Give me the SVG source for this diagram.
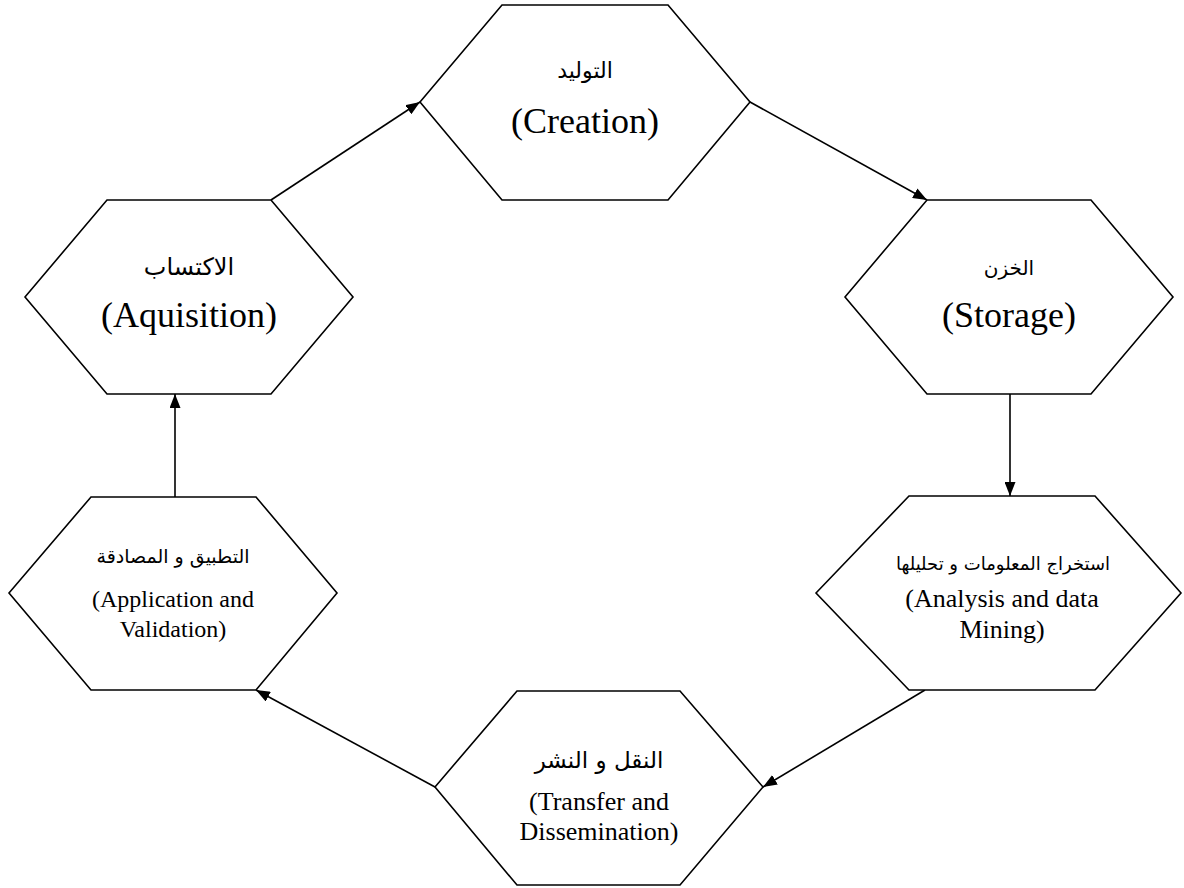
<svg xmlns="http://www.w3.org/2000/svg" width="1184" height="888" viewBox="0 0 1184 888">
  <style>
    .hex { fill: #ffffff; stroke: #000000; stroke-width: 1.6; stroke-linejoin: miter; }
    .link { fill: none; stroke: #000000; stroke-width: 1.6; marker-end: url(#arrow); }
    text { fill: #000000; text-anchor: middle; }
    .ar { font-family: "DejaVu Sans", sans-serif; }
    .en { font-family: "Liberation Serif", "DejaVu Serif", "Times New Roman", serif; }
  </style>
  <defs>
    <marker id="arrow" viewBox="0 0 14 11" refX="14" refY="5.5" markerWidth="14" markerHeight="11" markerUnits="userSpaceOnUse" orient="auto">
      <path d="M0,0 L14,5.5 L0,11 Z" fill="#000000"/>
    </marker>
  </defs>
  <rect width="1184" height="888" fill="#ffffff"/>

  <!-- connectors -->
  <g id="connectors">
    <line class="link" x1="271" y1="200" x2="420" y2="102"/>
    <line class="link" x1="750" y1="102" x2="927" y2="200"/>
    <line class="link" x1="1010" y1="394" x2="1010" y2="496"/>
    <line class="link" x1="925" y1="690" x2="763" y2="787"/>
    <line class="link" x1="435" y1="787" x2="256" y2="690"/>
    <line class="link" x1="175" y1="497" x2="175" y2="394"/>
  </g>

  <!-- Creation -->
  <g id="creation">
    <polygon class="hex" points="420,102 502,5 668,5 750,102 668,200 502,200"/>
    <text class="ar" x="585" y="78" font-size="22">التوليد</text>
    <text class="en" x="585" y="133" font-size="36">(Creation)</text>
  </g>

  <!-- Storage -->
  <g id="storage">
    <polygon class="hex" points="845,297 927,200 1091,200 1173,297 1091,394 927,394"/>
    <text class="ar" x="1009" y="275" font-size="20">الخزن</text>
    <text class="en" x="1009" y="327" font-size="36">(Storage)</text>
  </g>

  <!-- Analysis and data mining -->
  <g id="analysis">
    <polygon class="hex" points="816,593 909,496 1095,496 1181,593 1095,690 909,690"/>
    <text class="ar" x="1003" y="570" font-size="18">استخراج المعلومات و تحليلها</text>
    <text class="en" x="1002" y="607" font-size="26">(Analysis and data</text>
    <text class="en" x="1002" y="638" font-size="26">Mining)</text>
  </g>

  <!-- Transfer and dissemination -->
  <g id="transfer">
    <polygon class="hex" points="435,787 517,691 680,691 763,787 680,885 517,885"/>
    <text class="ar" x="599" y="768" font-size="23">النقل و النشر</text>
    <text class="en" x="599" y="810" font-size="26">(Transfer and</text>
    <text class="en" x="599" y="840" font-size="26">Dissemination)</text>
  </g>

  <!-- Application and validation -->
  <g id="application">
    <polygon class="hex" points="9,593 91,497 256,497 337,593 256,690 91,690"/>
    <text class="ar" x="173" y="563" font-size="19">التطبيق و المصادقة</text>
    <text class="en" x="173" y="607" font-size="24">(Application and</text>
    <text class="en" x="173" y="637" font-size="24">Validation)</text>
  </g>

  <!-- Acquisition -->
  <g id="acquisition">
    <polygon class="hex" points="25,297 107,200 271,200 353,297 271,394 107,394"/>
    <text class="ar" x="189" y="275" font-size="24">الاكتساب</text>
    <text class="en" x="189" y="327" font-size="36">(Aquisition)</text>
  </g>
</svg>
